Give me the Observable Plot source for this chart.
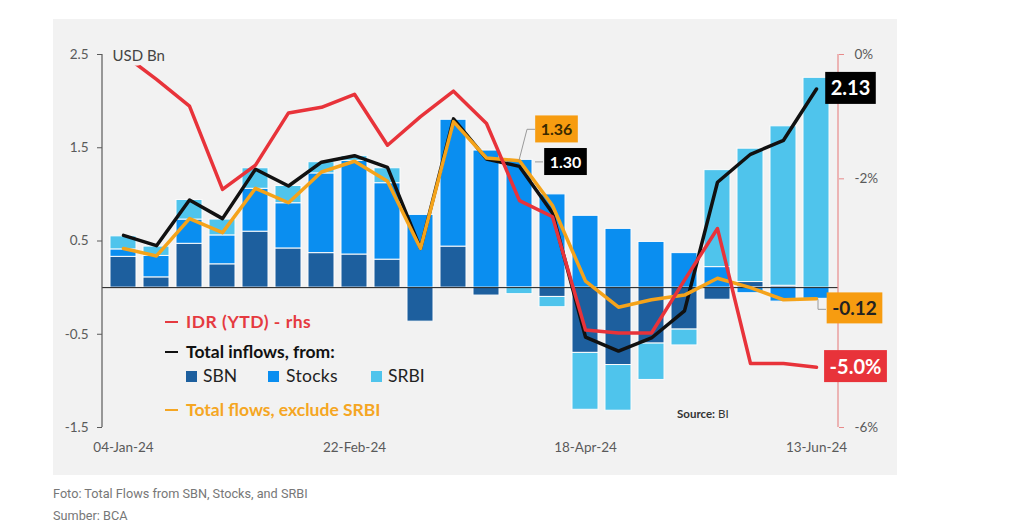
<!DOCTYPE html>
<html><head><meta charset="utf-8">
<script src="https://cdn.jsdelivr.net/npm/d3@7"></script>
<script src="https://cdn.jsdelivr.net/npm/@observablehq/plot@0.6"></script>
<style>
body{margin:0;background:#fff;font-family:Lato,sans-serif;}
#wrap{position:absolute;left:53px;top:19px;width:844px;height:456px;background:#f2f2f2;}
#chart{position:absolute;left:0;top:0;}
.lg{position:absolute;white-space:nowrap;font-family:Lato,sans-serif;}
.dash{position:absolute;width:13px;height:2px;}
.sq{position:absolute;width:11px;height:11px;}
.cap{position:absolute;left:53px;font-family:Roboto,sans-serif;color:#777;font-size:12.7px;white-space:nowrap;}
</style></head><body>
<div id="wrap">
  <div id="chart"></div>
  <div class="dash" style="left:112px;top:302px;background:#e53a40"></div>
  <div class="lg" style="left:133px;top:292px;font-size:17.5px;font-weight:700;color:#e53a40;letter-spacing:0.5px">IDR (YTD) - rhs</div>
  <div class="dash" style="left:112px;top:332px;background:#111"></div>
  <div class="lg" style="left:133px;top:322px;font-size:17.5px;font-weight:700;color:#111">Total inflows, from:</div>
  <div class="sq" style="left:133px;top:352px;background:#1d5f9e"></div>
  <div class="lg" style="left:150px;top:346px;font-size:17.5px;color:#222">SBN</div>
  <div class="sq" style="left:215px;top:352px;background:#0a8ef0"></div>
  <div class="lg" style="left:233px;top:346px;font-size:17.5px;color:#222;letter-spacing:0.3px">Stocks</div>
  <div class="sq" style="left:318px;top:352px;background:#4fc4ec"></div>
  <div class="lg" style="left:335px;top:346px;font-size:17.5px;color:#222">SRBI</div>
  <div class="dash" style="left:112px;top:390px;background:#f5a623"></div>
  <div class="lg" style="left:133px;top:380px;font-size:17.5px;font-weight:700;color:#f5a623">Total flows, exclude SRBI</div>
  <div class="lg" style="left:624px;top:388px;font-size:11.5px;color:#333"><b>Source:</b> BI</div>
</div>
<div class="cap" style="top:486px">Foto: Total Flows from SBN, Stocks, and SRBI</div>
<div class="cap" style="top:508px">Sumber: BCA</div>
<script>
const dates = ["04-Jan-24","11-Jan-24","18-Jan-24","25-Jan-24","01-Feb-24","08-Feb-24","15-Feb-24","22-Feb-24","29-Feb-24","07-Mar-24","14-Mar-24","21-Mar-24","28-Mar-24","04-Apr-24","18-Apr-24","25-Apr-24","02-May-24","16-May-24","23-May-24","30-May-24","06-Jun-24","13-Jun-24"];
const sbn    = [0.33,0.11,0.47,0.25,0.60,0.42,0.37,0.355,0.30,-0.365,0.44,-0.085,0.0,-0.10,-0.70,-0.83,-0.60,-0.45,-0.13,0.06,0.02,0.0];
const stocks = [0.08,0.23,0.26,0.31,0.46,0.485,0.855,1.005,0.82,0.78,1.36,1.47,1.37,1.00,0.77,0.63,0.49,0.37,0.22,-0.06,-0.15,-0.12];
const srbi   = [0.14,0.10,0.21,0.17,0.22,0.185,0.12,0.05,0.16,0,0,0,-0.07,-0.11,-0.61,-0.49,-0.39,-0.17,1.04,1.43,1.71,2.25];
const totalInflows = [0.56,0.45,0.94,0.74,1.27,1.09,1.345,1.415,1.29,0.42,1.81,1.38,1.30,0.80,-0.53,-0.68,-0.54,-0.25,1.13,1.43,1.58,2.13];
const exclSrbi     = [0.42,0.34,0.74,0.59,1.065,0.91,1.24,1.355,1.14,0.42,1.78,1.39,1.36,0.88,0.07,-0.21,-0.13,-0.08,0.10,0.0,-0.13,-0.12];
const idrYtd       = [0.0,-0.40,-0.83,-2.17,-1.78,-0.94,-0.85,-0.64,-1.46,-1.0,-0.59,-1.11,-2.35,-2.61,-4.43,-4.48,-4.48,-3.63,-2.80,-4.97,-4.97,-5.03];
const seriesNames = ["SBN","Stocks","SRBI"];
const seriesColors = ["#1d5f9e","#0a8ef0","#4fc4ec"];
const leftTicks = [2.5,1.5,0.5,-0.5,-1.5];
const rightTicks = [0,-2,-4,-6];
const xTickLabels = ["04-Jan-24","22-Feb-24","18-Apr-24","13-Jun-24"];

// map rhs % onto the lhs value scale
const pct = d3.scaleLinear().domain([-6,0]).range([-1.5,2.5]);

const bars = [];
[sbn,stocks,srbi].forEach((arr,k)=>arr.forEach((v,i)=>bars.push({date:dates[i],series:seriesNames[k],value:v})));
const rows = dates.map((d,i)=>({date:d,total:totalInflows[i],excl:exclSrbi[i],idr:pct(idrYtd[i])}));
const last = rows[rows.length-1];
const r12 = rows[12];

const axisColor = "#5a5a5a";
const plot = Plot.plot({
  width:844, height:456,
  marginLeft:49, marginRight:59, marginTop:35, marginBottom:48,
  style:{background:"transparent", fontFamily:"Lato, sans-serif", fontSize:"13.5px", overflow:"visible"},
  x:{domain:dates, paddingInner:0.2, paddingOuter:0.1, axis:null},
  y:{domain:[-1.5,2.5], axis:null},
  color:{domain:seriesNames, range:seriesColors},
  marks:[
    Plot.barY(bars, Plot.stackY({x:"date", y:"value", fill:"series", order:seriesNames, stroke:"#fbfbfb", strokeWidth:1})),
    Plot.ruleY([0], {stroke:"#1a1a1a", strokeWidth:1}),
    Plot.axisY({anchor:"left", ticks:leftTicks, tickSize:5, tickPadding:9, label:null, color:axisColor, tickFormat:d=>String(d)}),
    Plot.axisY({anchor:"right", ticks:rightTicks.map(pct), tickSize:5, tickPadding:11, label:null, color:axisColor, stroke:"#e88a8a", tickFormat:d=>Math.round(pct.invert(d))+"%"}),
    Plot.axisX({ticks:xTickLabels, tickSize:0, tickPadding:15, label:null, color:axisColor}),
    Plot.lineY(rows, {x:"date", y:"total", stroke:"#111", strokeWidth:3.5}),
    Plot.lineY(rows, {x:"date", y:"excl", stroke:"#f5a31a", strokeWidth:3.5}),
    Plot.lineY(rows, {x:"date", y:"idr", stroke:"#e8333a", strokeWidth:3.5}),
    Plot.text(["USD Bn"], {frameAnchor:"top-left", dx:10, dy:-4, fill:"#444", fontSize:15, textAnchor:"start", stroke:"#f2f2f2", strokeWidth:9}),
    Plot.text([last], {x:"date", y:"total", text:d=>d.total.toFixed(2), dx:34, fill:"#fff", fontWeight:"bold", fontSize:20, className:"lab-k"}),
    Plot.text([last], {x:"date", y:"excl", text:d=>d.excl.toFixed(2), dx:38, dy:10, fill:"#222", fontWeight:"bold", fontSize:19, className:"lab-o"}),
    Plot.text([last], {x:"date", y:"idr", text:d=>idrYtd[idrYtd.length-1].toFixed(1)+"%", dx:39, fill:"#fff", fontWeight:"bold", fontSize:20, className:"lab-r"}),
    Plot.text([r12], {x:"date", y:"excl", text:d=>d.excl.toFixed(2), dx:37, dy:-31, fill:"#3a2a00", fontWeight:"bold", fontSize:16, className:"lab-o"}),
    Plot.text([r12], {x:"date", y:"total", text:d=>d.total.toFixed(2), dx:46, dy:-4, fill:"#fff", fontWeight:"bold", fontSize:16, className:"lab-k"})
  ]
});
document.getElementById("chart").append(plot);

const xs = plot.scale("x"), ys = plot.scale("y");
const cx = d => xs.apply(d) + xs.bandwidth/2;
const svg = d3.select(plot);
const [yb, yt] = ys.range;
const xl = xs.range[0], xr = xs.range[1];
// axis spines
svg.append("line").attr("x1",xl).attr("x2",xl).attr("y1",yt).attr("y2",yb).attr("stroke",axisColor).attr("stroke-width",1.2);
svg.append("line").attr("x1",xr).attr("x2",xr).attr("y1",yt).attr("y2",yb).attr("stroke","#e88a8a").attr("stroke-width",1.2);

// leader lines
const lead = svg.append("g").attr("stroke","#9a9a9a").attr("fill","none").attr("stroke-width",1);
const px12 = cx(r12.date);
lead.append("polyline").attr("points",[[px12,ys.apply(r12.excl)],[px12+8,ys.apply(r12.excl)-31],[px12+16,ys.apply(r12.excl)-31]].join(" "));
lead.append("polyline").attr("points",[[px12+16,ys.apply(r12.total)-4],[px12+24,ys.apply(r12.total)-4]].join(" "));
const pxl = cx(last.date);
lead.append("polyline").attr("points",[[pxl+2,ys.apply(last.excl)+1],[pxl+2,ys.apply(last.excl)+11],[pxl+10,ys.apply(last.excl)+11]].join(" "));

// label boxes
const boxFill = {"lab-k":"#000","lab-o":"#f79c10","lab-r":"#e8333a"};
Object.keys(boxFill).forEach(cls=>{
  svg.selectAll("g."+cls+" text").each(function(){
    const b = this.getBBox();
    d3.select(this.parentNode).insert("rect","text")
      .attr("transform", this.getAttribute("transform"))
      .attr("x",b.x-5.5).attr("y",b.y-3.5).attr("width",b.width+11).attr("height",b.height+8).attr("fill",boxFill[cls]);
  });
  svg.selectAll("g."+cls).raise();
});
</script>
</body></html>
